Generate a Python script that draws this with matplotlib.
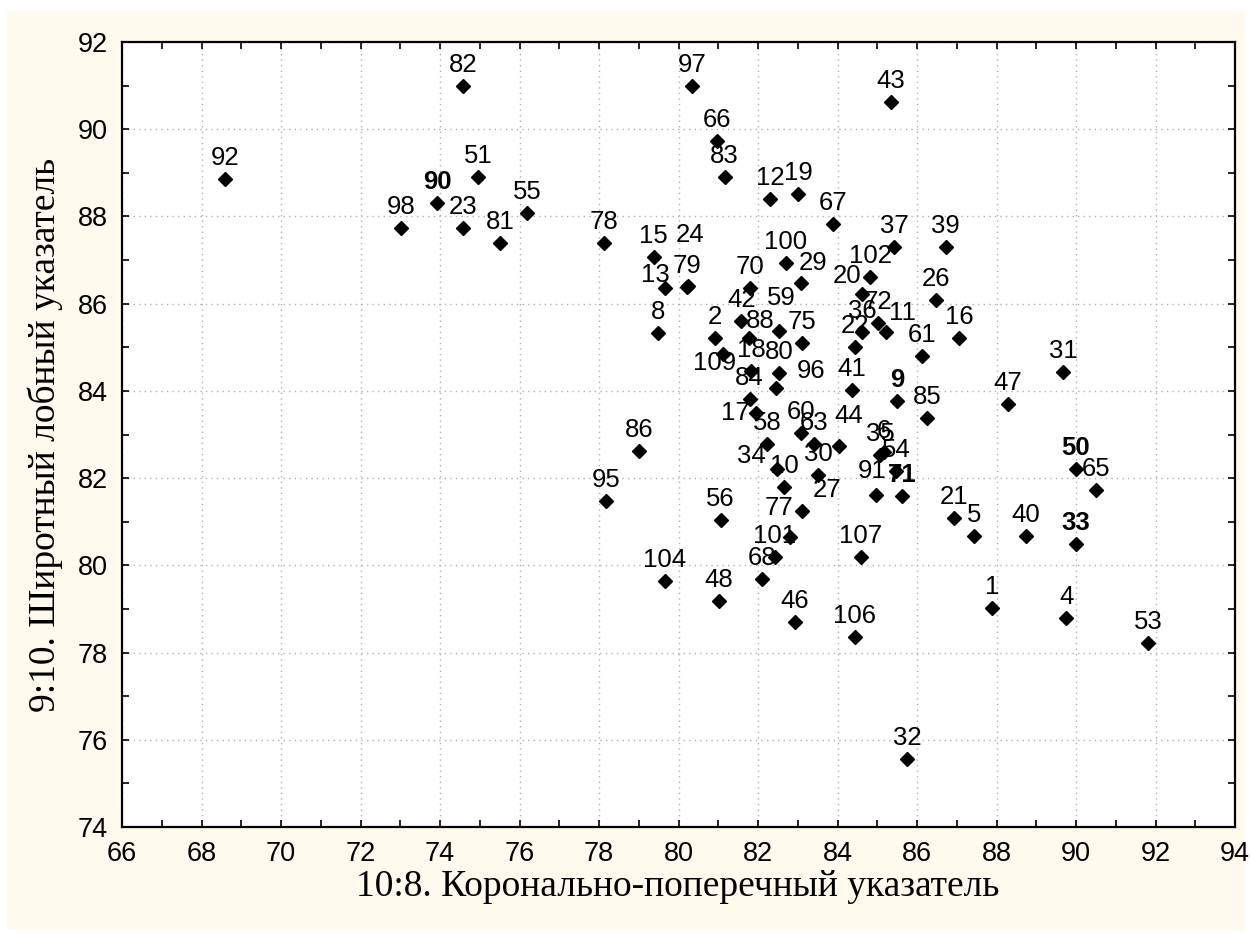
import matplotlib
matplotlib.use("Agg")
import matplotlib.pyplot as plt
from matplotlib.patches import Rectangle
from matplotlib.ticker import MultipleLocator

# ---- data (case id, x = 10:8 index, y = 9:10 index) ----
ids = [92, 98, 90, 23, 82, 51, 81, 55, 78, 97, 66, 83, 12, 19, 67, 43, 37, 39,
       15, 24, 13, 79, 8, 2, 42, 70, 88, 109, 18, 100, 29, 102, 20, 72, 36, 11,
       22, 26, 16, 61, 59, 75, 80, 96, 84, 17, 41, 9, 85, 60, 58, 63, 44, 34,
       10, 30, 35, 6, 54, 91, 71, 27, 77, 101, 68, 56, 48, 46, 107, 106, 86, 95,
       104, 32, 31, 47, 50, 65, 21, 5, 40, 33, 1, 4, 53]
x_vals = [68.59, 73.03, 73.93, 74.59, 74.59, 74.96, 75.51, 76.19, 78.13, 80.35,
          80.98, 81.16, 82.30, 83.01, 83.89, 85.35, 85.43, 86.72,
          79.38, 80.25, 79.66, 80.22, 79.48, 80.92, 81.58, 81.79, 81.77, 81.11,
          81.83, 82.70, 83.07, 84.82, 84.61, 85.02, 84.62, 85.22,
          84.44, 86.48, 87.06, 86.13, 82.53, 83.11, 82.53, 82.45, 81.79, 81.94,
          84.36, 85.50, 86.25, 83.08, 82.23, 83.41, 84.04, 82.49,
          82.66, 83.52, 85.07, 85.17, 85.48, 84.97, 85.62, 83.10, 82.80, 82.42,
          82.09, 81.06, 81.02, 82.93, 84.58, 84.44, 79.01, 78.18,
          79.66, 85.75, 89.67, 88.29, 90.00, 90.50, 86.93, 87.43, 88.74, 90.00,
          87.89, 89.75, 91.81]
y_vals = [88.85, 87.73, 88.30, 87.73, 90.99, 88.90, 87.40, 88.08, 87.40, 90.99,
          89.74, 88.90, 88.41, 88.51, 87.82, 90.62, 87.30, 87.30,
          87.07, 86.40, 86.37, 86.38, 85.33, 85.22, 85.60, 86.37, 85.21, 84.85,
          84.46, 86.94, 86.47, 86.61, 86.22, 85.56, 85.35, 85.35,
          85.01, 86.08, 85.21, 84.80, 85.37, 85.10, 84.40, 84.07, 83.82, 83.50,
          84.02, 83.77, 83.38, 83.04, 82.78, 82.78, 82.74, 82.21,
          81.80, 82.08, 82.53, 82.59, 82.17, 81.62, 81.59, 81.25, 80.64, 80.20,
          79.68, 81.04, 79.19, 78.69, 80.20, 78.35, 82.63, 81.48,
          79.65, 75.57, 84.44, 83.70, 82.21, 81.73, 81.09, 80.68, 80.68, 80.49,
          79.03, 78.80, 78.23]
bold_ids = {90, 9, 50, 33, 71}

x_label = "10:8. Коронально-поперечный указатель"
y_label = "9:10. Широтный лобный указатель"

# label placement (pixels, relative to marker) where the default does not fit
default_off = (0, 21)
label_off = {17: (-20, 0), 109: (-8, -9), 96: (35, 17), 44: (10, 30),
             34: (-26, 13), 27: (25, 21), 77: (-11, 29), 20: (-15, 18),
             13: (-10, 13), 29: (13, 20), 59: (2, 33), 88: (11, 17),
             11: (16, 19), 24: (2, 51), 91: (-4, 24)}

W, H = 1251, 934
fig = plt.figure(figsize=(W / 100, H / 100), dpi=100, facecolor="white")
bg = Rectangle((7 / W, 4 / H), (1245 - 7) / W, (923 - 4) / H,
               transform=fig.transFigure, facecolor="#FFF9EE",
               edgecolor="none", zorder=-10)
fig.patches.append(bg)

ax = fig.add_axes([122 / W, (H - 827) / H, (1235 - 122) / W, (827 - 42) / H])
ax.set_zorder(1)
ax.set_facecolor("white")
ax.set_xlim(66, 94)
ax.set_ylim(74, 92)
ax.xaxis.set_major_locator(MultipleLocator(2))
ax.xaxis.set_minor_locator(MultipleLocator(1))
ax.yaxis.set_major_locator(MultipleLocator(2))
ax.yaxis.set_minor_locator(MultipleLocator(1))
ax.grid(True, which="major", linestyle=(0, (1, 3)), color="#b0b0b0", linewidth=1.0)
ax.set_axisbelow(True)
ax.tick_params(which="both", direction="in", top=True, right=True,
               length=5, width=1.2, color="black")
ax.tick_params(axis="x", which="major", labelsize=19.5, pad=10)
ax.tick_params(axis="y", which="major", labelsize=19.5, pad=10)
for lab in ax.get_xticklabels() + ax.get_yticklabels():
    lab.set_fontfamily("Liberation Sans")
for sp in ax.spines.values():
    sp.set_linewidth(1.6)
    sp.set_color("black")

ax.plot(x_vals, y_vals, linestyle="none", marker="D", markersize=7.5,
        color="black", zorder=3)

for i, xv, yv in zip(ids, x_vals, y_vals):
    dx, dy = label_off.get(i, default_off)
    ax.annotate(str(i), (xv, yv), xytext=(dx, dy), textcoords="offset pixels",
                ha="center", va="center", fontsize=18.5,
                family="Liberation Sans",
                fontweight="bold" if i in bold_ids else "normal",
                color="black", zorder=4)

fig.text(678 / W, 1 - 887 / H, x_label, ha="center", va="center",
         family="Liberation Serif", fontsize=27)
fig.text(45 / W, 1 - 435 / H, y_label, ha="center", va="center",
         rotation=90, family="Liberation Serif", fontsize=27)

fig.savefig("out.png", dpi=100, facecolor=fig.get_facecolor())
